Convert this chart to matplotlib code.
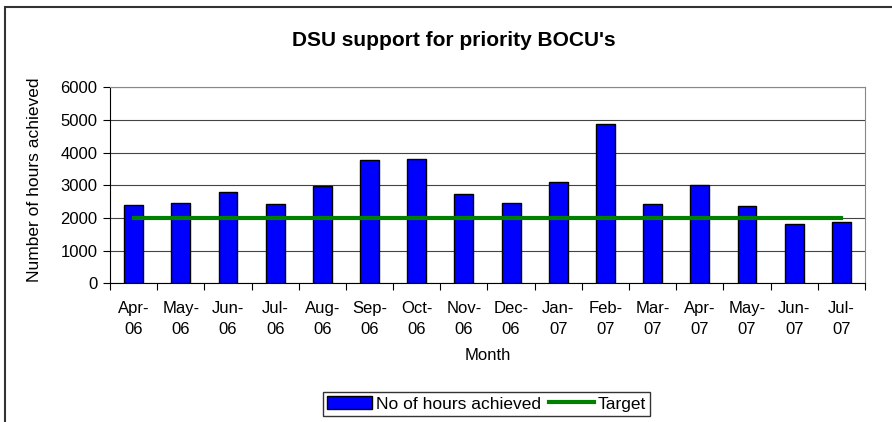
import matplotlib
matplotlib.use("Agg")
from matplotlib import pyplot as plt
from matplotlib.patches import Rectangle
import numpy as np

plt.rcParams['font.family'] = ['Liberation Sans', 'DejaVu Sans']

months = ["Apr-\n06", "May-\n06", "Jun-\n06", "Jul-\n06", "Aug-\n06", "Sep-\n06",
          "Oct-\n06", "Nov-\n06", "Dec-\n06", "Jan-\n07", "Feb-\n07", "Mar-\n07",
          "Apr-\n07", "May-\n07", "Jun-\n07", "Jul-\n07"]
hours = [2390, 2470, 2790, 2430, 2980, 3780, 3810, 2745,
         2470, 3090, 4870, 2440, 3020, 2360, 1800, 1880]
target = [2000] * 16

fig = plt.figure(figsize=(8.92, 4.22), dpi=100)
ax = fig.add_axes([0.1233, 0.3287, 0.8464, 0.4644])

# outer chart border (runs off the right and bottom edges)
fig.patches.append(Rectangle((5 / 892, -0.1), 1.2, 1 - 7 / 422 + 0.1,
                             transform=fig.transFigure, fill=False,
                             edgecolor="#333333", linewidth=1.5))

x = np.arange(len(months))
bars = ax.bar(x, hours, width=0.4, color="#0000FF", edgecolor="black",
              linewidth=1, label="No of hours achieved", zorder=3)
line, = ax.plot(x, target, color="#008000", linewidth=3, label="Target", zorder=4)

ax.set_xlim(-0.5, len(months) - 0.5)
ax.set_ylim(0, 6000)
ax.set_yticks(np.arange(0, 6001, 1000))
ax.yaxis.grid(True, color="#444444", linewidth=0.8, zorder=0)
ax.set_xticks(np.arange(-0.5, len(months), 1.0))
ax.set_xticklabels([])
ax.set_xticks(x, minor=True)
ax.set_xticklabels(months, minor=True, fontsize=12, linespacing=1.45)
ax.tick_params(axis="x", which="minor", length=0, pad=13)
ax.tick_params(axis="x", which="major", length=5, direction="out", color="black")
ax.tick_params(axis="y", length=5, direction="out", labelsize=12, pad=4)

for side in ["top", "right"]:
    ax.spines[side].set_color("#888888")
ax.spines["left"].set_color("black")
ax.spines["bottom"].set_color("black")

ax.set_xlabel("Month", fontsize=12, labelpad=8)
ax.set_ylabel("Number of hours achieved", fontsize=12.5)
ax.yaxis.set_label_coords(-0.090, 0.53)
fig.text(0.509, 0.905, "DSU support for priority BOCU's", ha="center", va="center",
         fontsize=15, fontweight="bold")

leg = fig.legend(handles=[bars, line], loc="center", bbox_to_anchor=(0.5454, 0.0427),
                 ncol=2, frameon=True, fancybox=False, fontsize=12.5,
                 handlelength=2.6, handletextpad=0.2, columnspacing=0.5,
                 borderpad=0.25)
leg.get_frame().set_edgecolor("black")
leg.get_frame().set_linewidth(1)

fig.savefig("out.png", dpi=100)
